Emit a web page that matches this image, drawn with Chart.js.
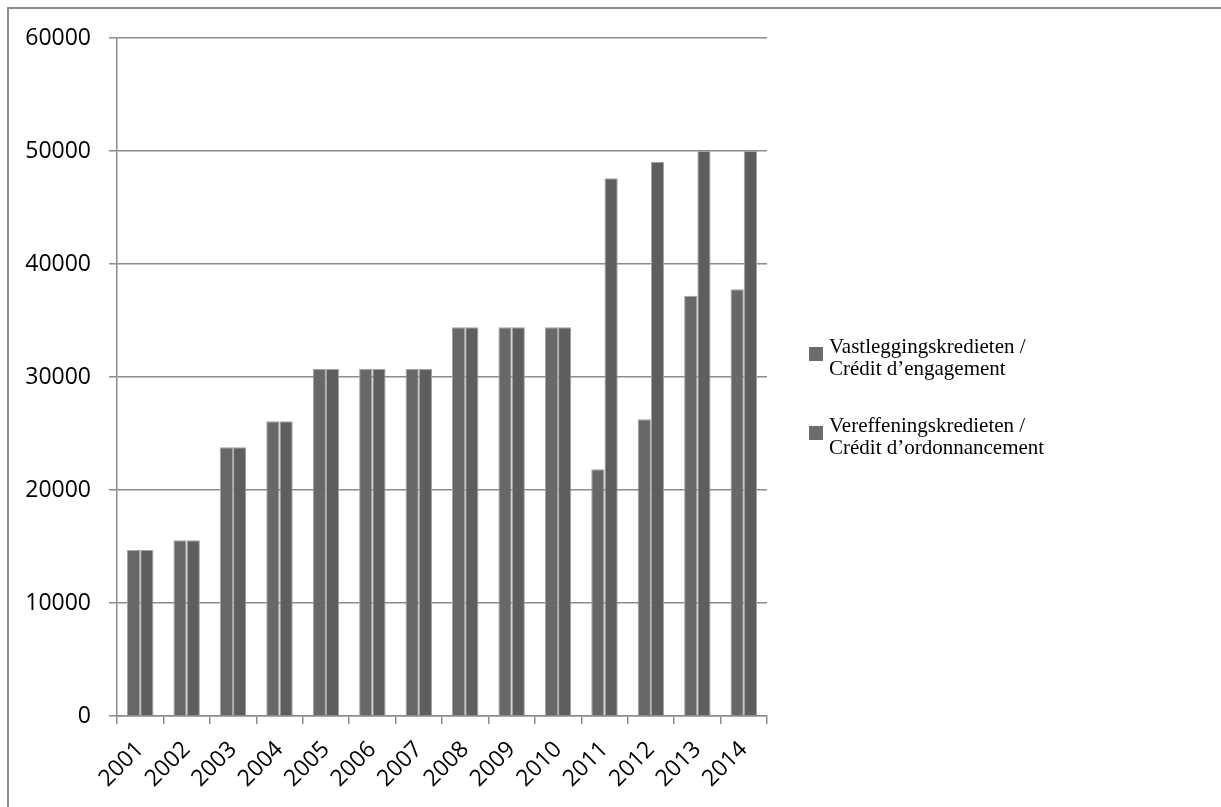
<!DOCTYPE html>
<html>
<head>
<meta charset="utf-8">
<script src="https://cdn.jsdelivr.net/npm/chart.js@4"></script>
<style>
  html,body{margin:0;padding:0;background:#fff;}
  #wrap{position:relative;width:1221px;height:807px;}
</style>
</head>
<body>
<div id="wrap"><canvas id="c" width="1221" height="807"></canvas></div>
<script>
const years = ['2001','2002','2003','2004','2005','2006','2007','2008','2009','2010','2011','2012','2013','2014'];
const engagement = [14700,15550,23780,26080,30700,30700,30700,34400,34400,34400,21830,26260,37190,37760];
const ordonnancement = [14700,15550,23780,26080,30700,30700,30700,34400,34400,34400,47580,49050,50000,50000];
const legendLines = [
  ['Vastleggingskredieten /','Crédit d\u2019engagement'],
  ['Vereffeningskredieten /','Crédit d\u2019ordonnancement']
];

// frame round the whole chart + two-line legend on the right
const frameAndLegend = {
  id:'frameAndLegend',
  beforeDraw(chart){
    const ctx = chart.ctx;
    ctx.save();
    ctx.strokeStyle = '#8c8c8c'; ctx.lineWidth = 2;
    ctx.strokeRect(8,8,1400,1000);
    ctx.restore();
  },
  afterDraw(chart){
    const ctx = chart.ctx;
    ctx.save();
    ctx.font = '21px "Liberation Serif"';
    ctx.textBaseline = 'alphabetic';
    const tops = [347, 426];
    chart.data.datasets.forEach((ds,i)=>{
      ctx.fillStyle = '#6c6c6c';
      ctx.fillRect(809, tops[i], 14, 14);
      ctx.fillStyle = '#000';
      legendLines[i].forEach((t,k)=> ctx.fillText(t, 829, tops[i] + 6 + k*22));
    });
    ctx.restore();
  }
};

new Chart(document.getElementById('c').getContext('2d'),{
  type:'bar',
  data:{
    labels:years,
    datasets:[
      {label:legendLines[0].join(' '), data:engagement, backgroundColor:'#686868', borderColor:'#a4a4a4', borderWidth:1},
      {label:legendLines[1].join(' '), data:ordonnancement, backgroundColor:'#5e5e5e', borderColor:'#a4a4a4', borderWidth:1}
    ]
  },
  options:{
    responsive:false, animation:false,
    layout:{padding:{left:0, top:38, right:454, bottom:0}},
    datasets:{bar:{categoryPercentage:0.57, barPercentage:1.0}},
    plugins:{legend:{display:false}, tooltip:{enabled:false}},
    scales:{
      x:{
        grid:{drawOnChartArea:false, drawTicks:true, tickLength:8, color:'#8c8c8c', lineWidth:1.5, offset:true},
        border:{color:'#8c8c8c', width:1.5},
        ticks:{color:'#000', font:{family:'"Open Sans"', size:23}, maxRotation:45, minRotation:45, padding:12},
        afterFit:(s)=>{ s.height = 91; }
      },
      y:{
        min:0, max:60000,
        grid:{color:'#8c8c8c', lineWidth:1.5, tickLength:8},
        border:{color:'#8c8c8c', width:1.5},
        ticks:{stepSize:10000, color:'#000', font:{family:'"Open Sans"', size:23}, padding:18,
               callback:(v)=>String(v)},
        afterFit:(s)=>{ s.width = 117; }
      }
    }
  },
  plugins:[frameAndLegend]
});
</script>
</body>
</html>
